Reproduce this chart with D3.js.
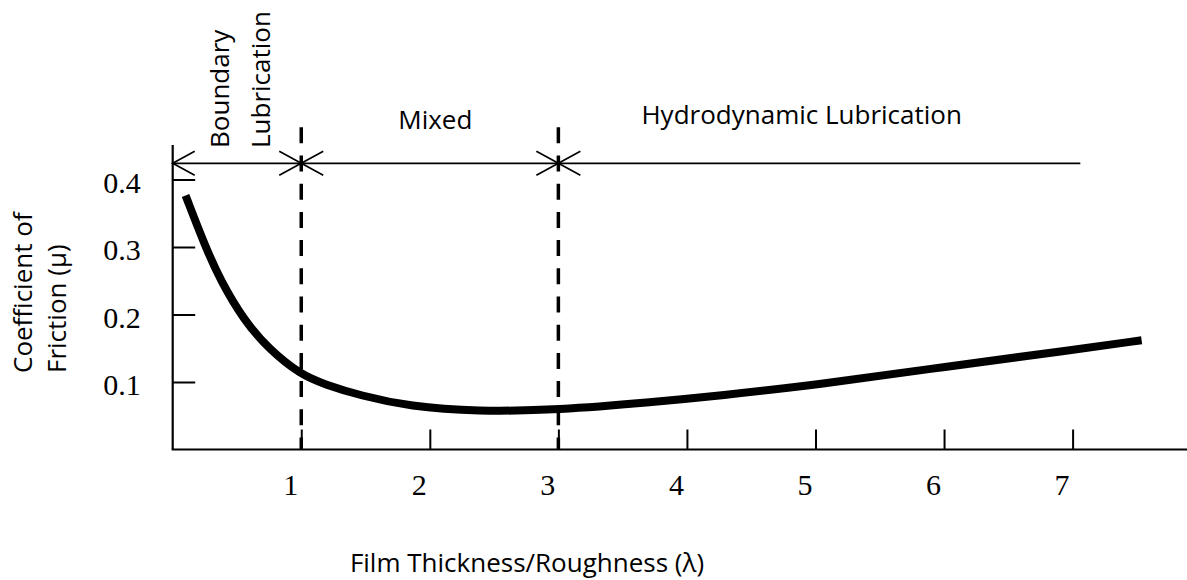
<!DOCTYPE html>
<html><head><meta charset="utf-8">
<script src="https://cdn.jsdelivr.net/npm/d3@7"></script>
<style>html,body{margin:0;padding:0;background:#fff;} svg{display:block}</style>
</head><body><svg id="chart" width="1187" height="580"></svg>
<script>
// ---- data ----
const lambdaValues   = [0.10, 0.254, 0.37, 0.552, 0.747, 0.993, 1.185, 1.457, 1.846, 2.365, 3.00, 3.713, 4.257, 5.00, 6.013, 6.993, 7.537];
const frictionValues = [0.3763, 0.3004, 0.2511, 0.1919, 0.1489, 0.1111, 0.0963, 0.080, 0.0637, 0.0563, 0.0585, 0.0696, 0.080, 0.0956, 0.1227, 0.1474, 0.1618];
const xTicks = [1, 2, 3, 4, 5, 6, 7];
const xTickLabels = ["1", "2", "3", "4", "5", "6", "7"];
const yTicks = [0.1, 0.2, 0.3, 0.4];
const yTickLabels = ["0.1", "0.2", "0.3", "0.4"];
const regionBounds = [0, 1, 3, 7.06];
const regionNames = ["Boundary Lubrication", "Mixed", "Hydrodynamic Lubrication"];
const xTitle = "Film Thickness/Roughness (λ)";
const yTitleLines = ["Coefficient of", "Friction (μ)"];

// ---- drawing ----
const svg = d3.select("#chart");
svg.append("rect").attr("width", 1187).attr("height", 580).attr("fill", "#fff");

const x = d3.scaleLinear().domain([0, 7]).range([172.7, 1072.6]);
const y = d3.scaleLinear().domain([0, 0.4]).range([449.5, 179.5]);
const sans = "'Open Sans', 'Noto Sans', sans-serif";
const serif = "'Liberation Serif', 'DejaVu Serif', serif";
const fs = "26px";

// axis lines
svg.append("line").attr("x1", x(0)).attr("x2", x(0)).attr("y1", 145).attr("y2", y(0))
  .attr("stroke", "#000").attr("stroke-width", 2.2);
svg.append("line").attr("x1", x(0) - 1).attr("x2", 1187).attr("y1", y(0)).attr("y2", y(0))
  .attr("stroke", "#000").attr("stroke-width", 2.2);

// x axis ticks
const gx = svg.append("g").attr("transform", `translate(0,${y(0)})`)
  .call(d3.axisBottom(x).tickValues(xTicks).tickFormat((d, i) => xTickLabels[i]).tickSize(-20).tickPadding(24.2));
gx.select(".domain").remove();
gx.selectAll(".tick line").attr("stroke", "#000").attr("stroke-width", 2);
gx.selectAll(".tick text").attr("x", -11).attr("fill", "#000")
  .style("font-family", serif).style("font-size", "30px");

// y axis ticks
const gy = svg.append("g").attr("transform", `translate(${x(0)},0)`)
  .call(d3.axisLeft(y).tickValues(yTicks).tickFormat((d, i) => yTickLabels[i]).tickSize(-22.5).tickPadding(32));
gy.select(".domain").remove();
gy.selectAll(".tick line").attr("stroke", "#000").attr("stroke-width", 2);
gy.selectAll(".tick text").attr("dy", "0.43em").attr("fill", "#000")
  .style("font-family", serif).style("font-size", "30px");

// region dashed boundaries
regionBounds.slice(1, 3).forEach(b => {
  svg.append("line").attr("x1", x(b)).attr("x2", x(b)).attr("y1", 127.3).attr("y2", y(0))
    .attr("stroke", "#000").attr("stroke-width", 3.5).attr("stroke-dasharray", "16,12.2");
});

// region arrow line
const ay = 163.3;
svg.append("line").attr("x1", x(regionBounds[0])).attr("x2", x(regionBounds[3])).attr("y1", ay).attr("y2", ay)
  .attr("stroke", "#000").attr("stroke-width", 1.7);
const headL = px => `M${px + 22},${ay - 12}L${px},${ay}L${px + 22},${ay + 12}`;
const headR = px => `M${px - 22},${ay - 12}L${px},${ay}L${px - 22},${ay + 12}`;
regionNames.forEach((n, i) => {
  svg.append("path").attr("d", headL(x(regionBounds[i]))).attr("fill", "none").attr("stroke", "#000").attr("stroke-width", 1.7);
  if (i < regionNames.length - 1)
    svg.append("path").attr("d", headR(x(regionBounds[i + 1]))).attr("fill", "none").attr("stroke", "#000").attr("stroke-width", 1.7);
});

// region labels
const bWords = regionNames[0].split(" ");
[[bWords[0], 228.5], [bWords[1], 269.5]].forEach(([t, bx]) => {
  svg.append("text").attr("transform", `translate(${bx},148) rotate(-90)`)
    .attr("text-anchor", "start").style("font-family", sans).style("font-size", fs).attr("fill", "#000").text(t);
});
svg.append("text").attr("x", 435.3).attr("y", 129.3).attr("text-anchor", "middle")
  .style("font-family", sans).style("font-size", fs).attr("fill", "#000").text(regionNames[1]);
svg.append("text").attr("x", 801.7).attr("y", 123.5).attr("text-anchor", "middle")
  .style("font-family", sans).style("font-size", fs).attr("fill", "#000").text(regionNames[2]);

// curve
const pts = lambdaValues.map((l, i) => [l, frictionValues[i]]);
svg.append("path").datum(pts)
  .attr("d", d3.line().x(d => x(d[0])).y(d => y(d[1])).curve(d3.curveBasis))
  .attr("fill", "none").attr("stroke", "#000").attr("stroke-width", 8).attr("stroke-linecap", "butt");

// titles
svg.append("text").attr("x", 527).attr("y", 571.5).attr("text-anchor", "middle")
  .style("font-family", sans).style("font-size", fs).attr("fill", "#000").text(xTitle);
yTitleLines.forEach((t, i) => {
  svg.append("text").attr("transform", `translate(${[32, 66.4][i]},373) rotate(-90)`)
    .attr("text-anchor", "start").style("font-family", sans).style("font-size", fs).attr("fill", "#000").text(t);
});
</script>
</body></html>
